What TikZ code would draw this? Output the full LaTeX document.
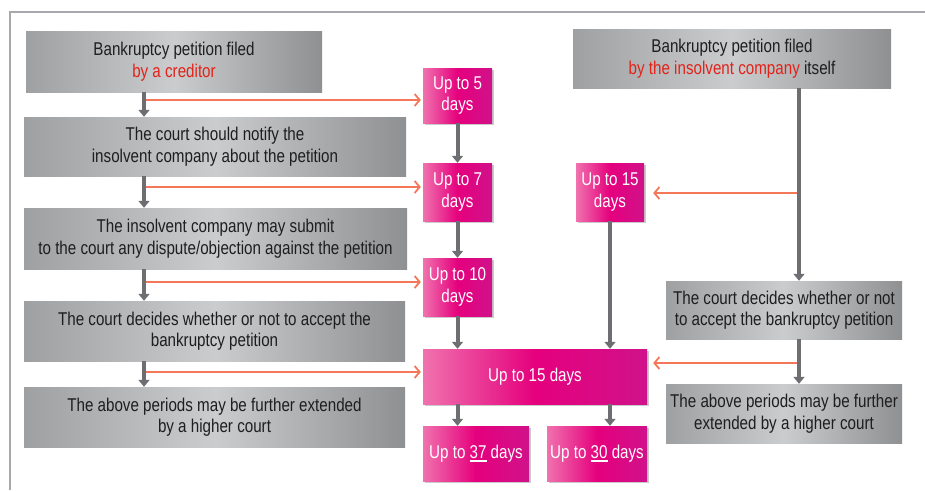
\documentclass[tikz,border=0pt]{standalone}
\usepackage{fontspec}
\usetikzlibrary{arrows.meta, shadows}
\newfontfamily\diafont[FakeStretch=0.82]{Liberation Sans}
\definecolor{frame-gray}{HTML}{A7A9AC}
\definecolor{box-edge}{HTML}{9FA0A2}
\definecolor{box-mid}{HTML}{CBCCCE}
\definecolor{box-text}{HTML}{1E1E1E}
\definecolor{step-gray}{HTML}{6D6E71}
\definecolor{link-orange}{HTML}{F47857}
\definecolor{claim-red}{HTML}{E2231A}
\definecolor{pink-left}{HTML}{F072AE}
\definecolor{pink-mid}{HTML}{E5007D}
\definecolor{pink-right}{HTML}{D0128A}
\newcommand{\ulnum}[1]{\leavevmode\setbox0\hbox{#1}%
  \rlap{\raisebox{-3.5pt}{\rule{\wd0}{1.6pt}}}\box0}

\begin{document}
\begin{tikzpicture}[x=1pt, y=-1pt,
          every node/.style={font=\diafont\fontsize{18.5}{21.5}\selectfont,
            align=center, inner sep=0pt},
          graybox/.style={left color=box-edge, right color=box-edge!90!black,
            middle color=box-mid, text=box-text},
          daybox/.style={left color=pink-left, right color=pink-right,
            middle color=pink-mid, text=white,
            drop shadow={shadow xshift=2pt, shadow yshift=-2pt,
              fill=black!35, opacity=0.6}},
          steparrow/.style={draw=step-gray, line width=4pt,
            -{Triangle[width=11pt, length=7pt]}},
          linkarrow/.style={draw=link-orange, line width=1.8pt,
            -{Straight Barb[width=12pt, length=5pt]}}]
        % Diagram: two bankruptcy routes, creditor (left column of gray steps)
        % and company itself (right column), feeding pink day-limit boxes.
        % Coordinates: pixel grid of the 925x490 figure, y growing downwards.
        \useasboundingbox (0,0) rectangle (925,490);
        \draw[frame-gray, line width=1.5pt] (925,12) -- (10,12) -- (10,490);

        % left column: petition by a creditor
        \node[graybox, minimum width=296pt, minimum height=61pt] (c1) at (174,61.5)
          {Bankruptcy petition filed\\ \textcolor{claim-red}{by a creditor}};
        \node[graybox, minimum width=382pt, minimum height=59pt] (c2) at (215,146.5)
          {The court should notify the\\ insolvent company about the petition};
        \node[graybox, minimum width=383pt, minimum height=61pt] (c3) at (215.5,238.5)
          {The insolvent company may submit\\ to the court any dispute/objection against the petition};
        \node[graybox, minimum width=381pt, minimum height=60pt] (c4) at (214.5,331)
          {The court decides whether or not to accept the\\ bankruptcy petition};
        \node[graybox, minimum width=381pt, minimum height=60pt] (c5) at (214.5,417)
          {The above periods may be further extended\\ by a higher court};

        % middle: day limits
        \node[daybox, minimum width=69pt, minimum height=55pt] (d5) at (457.5,95.5)
          {Up to 5\\ days};
        \node[daybox, minimum width=69pt, minimum height=58pt] (d7) at (457.5,192)
          {Up to 7\\ days};
        \node[daybox, minimum width=69pt, minimum height=58pt] (d10) at (457.5,287)
          {Up to 10\\ days};
        \node[daybox, minimum width=68pt, minimum height=58pt] (r15) at (610,192)
          {Up to 15\\ days};
        \node[daybox, minimum width=224pt, minimum height=55pt] (d15) at (535,376.5)
          {Up to 15 days};
        \node[daybox, minimum width=106pt, minimum height=55pt] (d37) at (476,453.5)
          {Up to \ulnum{37}\ days};
        \node[daybox, minimum width=100pt, minimum height=55pt] (d30) at (597,453.5)
          {Up to \ulnum{30}\ days};

        % right column: petition by the company itself
        \node[graybox, minimum width=318pt, minimum height=59pt] (e1) at (732,58.5)
          {Bankruptcy petition filed\\ \textcolor{claim-red}{by the insolvent company} itself};
        \node[graybox, minimum width=236pt, minimum height=58pt] (e2) at (784,310)
          {The court decides whether or not\\ to accept the bankruptcy petition};
        \node[graybox, minimum width=236pt, minimum height=59pt] (e3) at (784,413.5)
          {The above periods may be further\\ extended by a higher court};

        % gray steps
        \foreach \a/\b in {c1/c2, c2/c3, c3/c4, c4/c5}
          \draw[steparrow] (\a.south -| 144,0) -- (\b.north -| 144,0);
        \draw[steparrow] (d5) -- (d7);
        \draw[steparrow] (d7) -- (d10);
        \draw[steparrow] (d10) -- (d15.north -| d10);
        \draw[steparrow] (r15) -- (d15.north -| r15);
        \draw[steparrow] (d15.south -| d10) -- (d37.north -| d10);
        \draw[steparrow] (d15.south -| r15) -- (d30.north -| r15);
        \draw[steparrow] (e1.south -| 799,0) -- (e2.north -| 799,0);
        \draw[steparrow] (e2.south -| 799,0) -- (e3.north -| 799,0);

        % orange links to the day limits
        \coordinate (l1) at (146,100);
        \coordinate (l2) at (146,187);
        \coordinate (l3) at (146,282);
        \coordinate (l4) at (146,372);
        \coordinate (k1) at (797,193);
        \coordinate (k2) at (797,363);
        \draw[linkarrow, shorten >=2pt] (l1) -- (l1 -| d5.west);
        \draw[linkarrow, shorten >=2pt] (l2) -- (l2 -| d7.west);
        \draw[linkarrow, shorten >=2pt] (l3) -- (l3 -| d10.west);
        \draw[linkarrow, shorten >=2pt] (l4) -- (l4 -| d15.west);
        \draw[linkarrow, shorten >=9pt] (k1) -- (k1 -| r15.east);
        \draw[linkarrow, shorten >=6pt] (k2) -- (k2 -| d15.east);
      \end{tikzpicture}
\end{document}
